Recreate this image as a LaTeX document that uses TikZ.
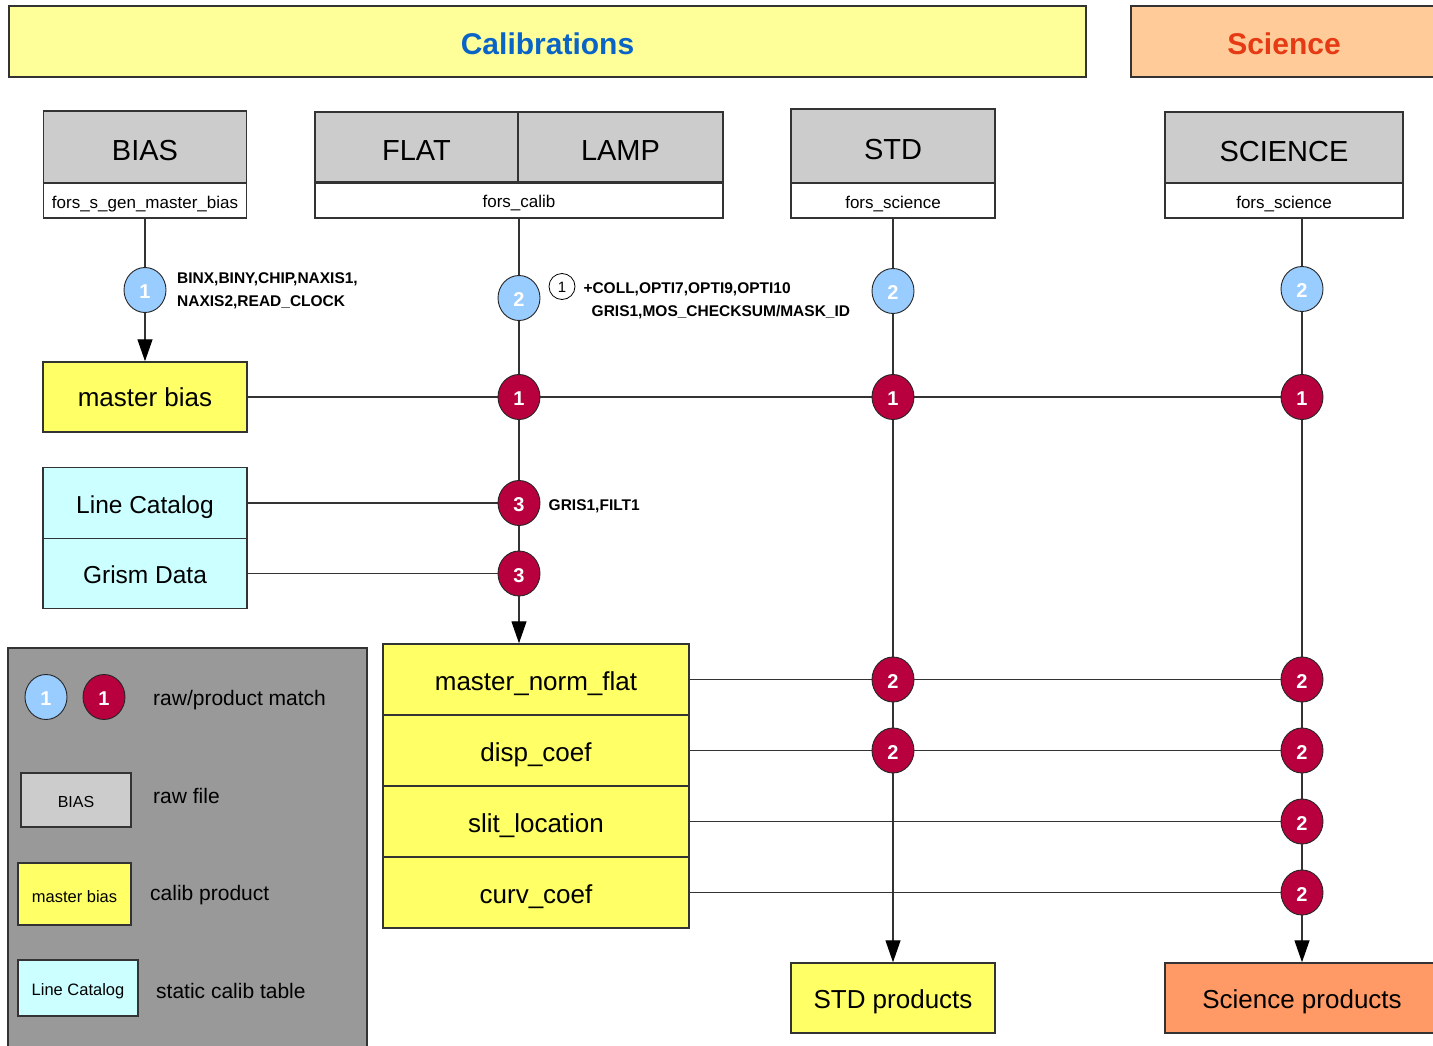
\documentclass[tikz,border=0pt]{standalone}
\usepackage{fontspec}
\setmainfont{Liberation Sans}
\usetikzlibrary{arrows.meta,shapes.geometric}
\definecolor{calY}{HTML}{FFFF99}
\definecolor{sciO}{HTML}{FFCC99}
\definecolor{rawG}{HTML}{CCCCCC}
\definecolor{prodY}{HTML}{FFFF66}
\definecolor{statC}{HTML}{CCFFFF}
\definecolor{sciP}{HTML}{FF9966}
\definecolor{legG}{HTML}{999999}
\definecolor{rawB}{HTML}{99CCFF}
\definecolor{prodR}{HTML}{B8003F}
\definecolor{calT}{HTML}{0A64C8}
\definecolor{sciT}{HTML}{E63A14}
\definecolor{lineC}{HTML}{333333}
\begin{document}
\begin{tikzpicture}[x=1pt,y=-1pt,
  fbox/.style={draw=lineC,line width=1.5pt,inner sep=0pt,text=black,text depth=0pt},
  banner/.style={fbox,font=\fontsize{30}{36}\selectfont\bfseries,text height=26.5pt},
  rawbox/.style={fbox,fill=rawG,font=\fontsize{29}{35}\selectfont,text height=27.5pt},
  recbox/.style={fbox,fill=white,font=\fontsize{17}{20}\selectfont,text height=15.2pt},
  prodbox/.style={fbox,fill=prodY,font=\fontsize{26}{31}\selectfont,text height=21.4pt},
  statbox/.style={fbox,fill=statC,font=\fontsize{24.5}{29}\selectfont,text height=20.5pt},
  conn/.style={draw=lineC,line width=1.3pt},
  arr/.style={conn,-{Triangle[length=22pt,width=15pt,color=black]}},
  bcirc/.style={ellipse,draw=black!85,line width=0.9pt,fill=rawB,minimum width=42,minimum height=45,inner sep=0pt,text=white,font=\fontsize{20}{24}\selectfont\bfseries,text height=17.3pt,text depth=0pt},
  rcirc/.style={bcirc,fill=prodR},
  lbl/.style={anchor=base west,inner sep=0pt,font=\fontsize{15.5}{19}\selectfont\bfseries},
  legt/.style={anchor=west,inner sep=0pt,font=\fontsize{21}{25}\selectfont,text height=15pt,text depth=0pt},
]
\useasboundingbox (0,0) rectangle (1433,1046);
\clip (0,0) rectangle (1433,1046);
\fill[white] (0,0) rectangle (1433,1046);

% banners
\node[banner,fill=calY,text=calT,minimum width=1077,minimum height=71] (cal) at (547.5,41.5) {Calibrations};
\node[banner,fill=sciO,text=sciT,minimum width=306,minimum height=71] (sci) at (1284,41.5) {Science};

% raw frames
\node[rawbox,minimum width=203,minimum height=72] (bias) at (145,147) {BIAS};
\node[recbox,minimum width=203,minimum height=35,text height=16.5pt] (biasw) at (145,200.5) {fors\_s\_gen\_master\_bias};
\node[rawbox,minimum width=203,minimum height=70] (flat) at (416.5,147) {FLAT};
\node[rawbox,minimum width=205,minimum height=70] (lamp) at (620.5,147) {LAMP};
\node[recbox,minimum width=408,minimum height=36] (flatw) at (519,200) {fors\_calib};
\draw[lineC,line width=3pt] (flat.south west) -- (lamp.south east);
\node[rawbox,minimum width=204,minimum height=74] (std) at (893,146) {STD};
\node[recbox,minimum width=204,minimum height=35] (stdw) at (893,200.5) {fors\_science};
\node[rawbox,minimum width=238,minimum height=71] (scir) at (1284,147.5) {SCIENCE};
\node[recbox,minimum width=238,minimum height=35] (sciw) at (1284,200.5) {fors\_science};

% products and static tables
\node[prodbox,minimum width=204,minimum height=70,text height=19.6pt] (mb) at (145,397) {master bias};
\node[statbox,minimum width=204,minimum height=71] (lc) at (145,503) {Line Catalog};
\node[statbox,minimum width=204,minimum height=70] (gd) at (145,573.5) {Grism Data};
\node[prodbox,minimum width=306,minimum height=71] (mnf1) at (536,679.5) {master\_norm\_flat};
\node[prodbox,minimum width=306,minimum height=71] (mnf2) at (536,750.5) {disp\_coef};
\node[prodbox,minimum width=306,minimum height=71] (mnf3) at (536,821.5) {slit\_location};
\node[prodbox,minimum width=306,minimum height=71] (mnf4) at (536,892.5) {curv\_coef};
\node[prodbox,minimum width=204,minimum height=70] (stdp) at (893,998) {STD products};
\node[prodbox,fill=sciP,minimum width=274,minimum height=70] (scip) at (1302,998) {Science products};

% match circles
\node[bcirc] (b1) at (145,290) {1};
\node[bcirc] (fb2) at (519,298) {2};
\node[bcirc] (sb2) at (893,291) {2};
\node[bcirc] (cb2) at (1302,289) {2};
\node[rcirc] (fr1) at (519,397) {1};
\node[rcirc] (sr1) at (893,397) {1};
\node[rcirc] (cr1) at (1302,397) {1};
\node[rcirc] (fr3a) at (519,503) {3};
\node[rcirc] (fr3b) at (519,573.5) {3};
\node[rcirc] (sr2a) at (893,679.5) {2};
\node[rcirc] (sr2b) at (893,750.5) {2};
\node[rcirc] (cr2a) at (1302,679.5) {2};
\node[rcirc] (cr2b) at (1302,750.5) {2};
\node[rcirc] (cr2c) at (1302,821.5) {2};
\node[rcirc] (cr2d) at (1302,892.5) {2};

% vertical connectors
\draw[conn] (biasw) -- (b1);
\draw[arr] (b1) -- (mb);
\foreach \a/\b in {flatw/fb2,fb2/fr1,fr1/fr3a,fr3a/fr3b} \draw[conn] (\a) -- (\b);
\draw[arr] (fr3b) -- (fr3b |- mnf1.north);
\foreach \a/\b in {stdw/sb2,sb2/sr1,sr1/sr2a,sr2a/sr2b} \draw[conn] (\a) -- (\b);
\draw[arr] (sr2b) -- (stdp);
\draw[conn] (cb2 |- sciw.south) -- (cb2);
\foreach \a/\b in {cb2/cr1,cr1/cr2a,cr2a/cr2b,cr2b/cr2c,cr2c/cr2d} \draw[conn] (\a) -- (\b);
\draw[arr] (cr2d) -- (scip);

% horizontal connectors
\foreach \a/\b in {mb/fr1,fr1/sr1,sr1/cr1,lc/fr3a,gd/fr3b,mnf1/sr2a,sr2a/cr2a,mnf2/sr2b,sr2b/cr2b,mnf3/cr2c,mnf4/cr2d} \draw[conn] (\a) -- (\b);

% keyword labels
\node[lbl] (l1a) at (177,283.3) {BINX,BINY,CHIP,NAXIS1,};
\node[lbl] (l1b) at (177,306.7) {NAXIS2,READ\_CLOCK};
\node[circle,draw=black,line width=0.8pt,fill=white,minimum size=26,inner sep=0pt,font=\fontsize{15}{18}\selectfont,text height=12pt,text depth=0pt] (m1) at (562,286.5) {1};
\node[lbl] (l2a) at (583.3,293.3) {+COLL,OPTI7,OPTI9,OPTI10};
\node[lbl] (l2b) at (591.5,316.7) {GRIS1,MOS\_CHECKSUM/MASK\_ID};
\node[lbl] (l3) at (548.5,510.7) {GRIS1,FILT1};

% legend
\node[fbox,fill=legG,minimum width=359,minimum height=420,anchor=north west] (leg) at (7,647) {};
\node[bcirc] (lb) at (46,697) {1};
\node[rcirc] (lr) at (104,697) {1};
\node[legt] (t1) at (153,697.5) {raw/product match};
\node[fbox,fill=rawG,minimum width=110,minimum height=54,font=\fontsize{16}{19}\selectfont,text height=14.9pt] (lbias) at (76,800) {BIAS};
\node[legt] (t2) at (153,795.8) {raw file};
\node[fbox,fill=prodY,minimum width=113,minimum height=62,font=\fontsize{16.5}{19}\selectfont,text height=17.2pt] (lmb) at (74.5,894) {master bias};
\node[legt] (t3) at (150,892.5) {calib product};
\node[fbox,fill=statC,minimum width=120,minimum height=56,font=\fontsize{16.5}{19}\selectfont,text height=15.2pt] (llc) at (78,988) {Line Catalog};
\node[legt] (t4) at (156,990.8) {static calib table};
\end{tikzpicture}
\end{document}
